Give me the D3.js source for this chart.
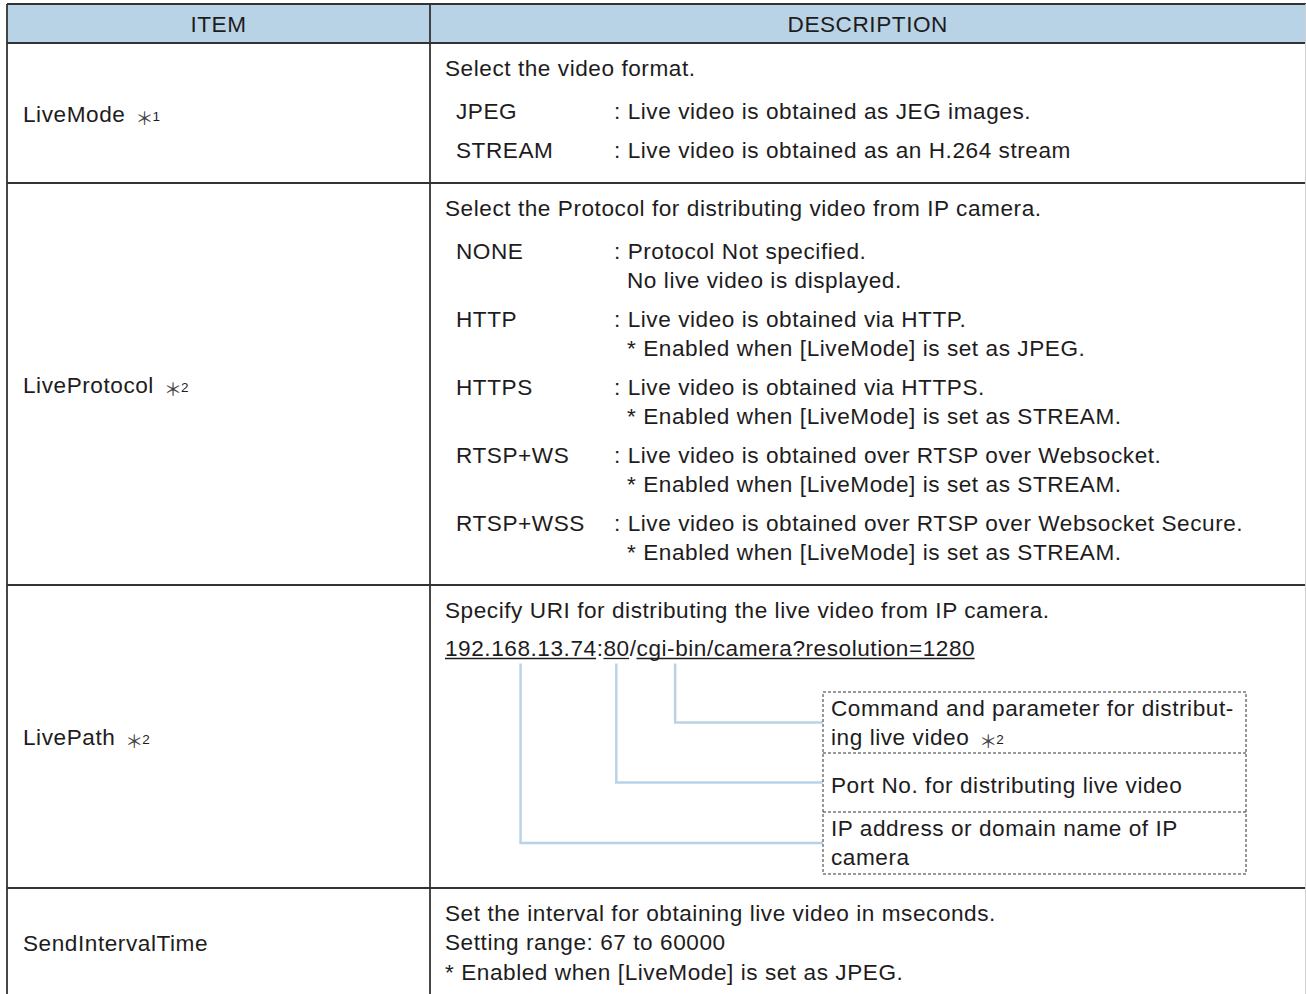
<!DOCTYPE html>
<html><head><meta charset="utf-8">
<script src="https://cdn.jsdelivr.net/npm/d3@7"></script>
<style>
html,body{margin:0;padding:0;background:#fff;}
svg{display:block;}
text{font-family:"Liberation Sans",Arial,Helvetica,sans-serif;fill:#1e1c1d;}
</style>
</head><body>
<svg id="c" width="1306" height="994"></svg>
<script>
// ---------- data ----------
const headers = ["ITEM", "DESCRIPTION"];
const items = ["LiveMode", "LiveProtocol", "LivePath", "SendIntervalTime"];
const itemNotes = ["1", "2", "2", ""];
const rowBounds = [43, 183, 585, 888, 996];
const intros = [
  ["Select the video format."],
  ["Select the Protocol for distributing video from IP camera."],
  ["Specify URI for distributing the live video from IP camera."],
  ["Set the interval for obtaining live video in mseconds.", "Setting range: 67 to 60000", "* Enabled when [LiveMode] is set as JPEG."]
];
const modeKeys = ["JPEG", "STREAM"];
const modeLines = [
  [": Live video is obtained as JEG images."],
  [": Live video is obtained as an H.264 stream"]
];
const protocolKeys = ["NONE", "HTTP", "HTTPS", "RTSP+WS", "RTSP+WSS"];
const protocolLines = [
  [": Protocol Not specified.", "No live video is displayed."],
  [": Live video is obtained via HTTP.", "* Enabled when [LiveMode] is set as JPEG."],
  [": Live video is obtained via HTTPS.", "* Enabled when [LiveMode] is set as STREAM."],
  [": Live video is obtained over RTSP over Websocket.", "* Enabled when [LiveMode] is set as STREAM."],
  [": Live video is obtained over RTSP over Websocket Secure.", "* Enabled when [LiveMode] is set as STREAM."]
];
const urlParts = ["192.168.13.74", ":", "80", "/", "cgi-bin/camera?resolution=1280"];
const urlUnderlined = [true, false, true, false, true];
const calloutLines = [
  ["Command and parameter for distribut-", "ing live video"],
  ["Port No. for distributing live video"],
  ["IP address or domain name of IP", "camera"]
];
const calloutNotes = ["2", "", ""];
const calloutPart = [4, 2, 0];
const calloutBounds = [692, 753, 812, 874];

// ---------- style / layout ----------
const FS = 22.6, LS = 0.55;
const W = 1306, tLeft = 7, tRight = 1305.5, colX = 430, tTop = 4;
const svg = d3.select("#c");
const xs = d3.scaleOrdinal().domain(headers).range([tLeft, colX]);
const colEnd = d3.scaleOrdinal().domain(headers).range([colX, tRight]);
const rowY = d3.scaleOrdinal().domain(items).range(rowBounds.slice(0, 4));
const rowY1 = d3.scaleOrdinal().domain(items).range(rowBounds.slice(1));

function txt(g, s, tx, ty, opts = {}) {
  const t = g.append("text").attr("x", tx).attr("y", ty)
    .attr("font-size", opts.fs || FS).attr("letter-spacing", LS)
    .attr("text-anchor", opts.anchor || "start").text(s);
  if (opts.note) {
    t.append("tspan").attr("dx", 10).attr("dy", 3).attr("font-size", 18).attr("letter-spacing", 0)
      .style("font-family", "'Noto Sans CJK JP'").attr("fill", "#444").text("＊");
    t.append("tspan").attr("dx", -1).attr("dy", -4).attr("font-size", 13.5).attr("letter-spacing", 0).text(opts.note);
  }
  return t;
}

// header
svg.append("rect").attr("x", tLeft).attr("y", tTop).attr("width", tRight - tLeft).attr("height", rowBounds[0] - tTop)
  .attr("fill", "#b9d3e6");
headers.forEach(h => {
  txt(svg, h, (xs(h) + colEnd(h)) / 2, 31.5, {anchor: "middle"});
});

// item labels
items.forEach((it, i) => {
  const cy = (rowY(it) + rowY1(it)) / 2;
  txt(svg, it, 23, cy + 8.5, {note: itemNotes[i]});
});

// descriptions
const dX = 445, keyX = 456, optX = 614, contX = 627;
function options(keys, lines, y0) {
  let y = y0;
  keys.forEach((k, i) => {
    txt(svg, k, keyX, y);
    lines[i].forEach((l, j) => {
      txt(svg, l, j === 0 ? optX : contX, y);
      if (j < lines[i].length - 1) y += 29;
    });
    y += 39;
  });
}
// row 1
txt(svg, intros[0][0], dX, rowY(items[0]) + 32.5);
options(modeKeys, modeLines, rowY(items[0]) + 75.5);
// row 2
txt(svg, intros[1][0], dX, rowY(items[1]) + 32.5);
options(protocolKeys, protocolLines, rowY(items[1]) + 75.5);
// row 3
txt(svg, intros[2][0], dX, rowY(items[2]) + 32.5);
const urlY = rowY(items[2]) + 70.5;
const urlT = svg.append("text").attr("x", dX).attr("y", urlY).attr("font-size", FS).attr("letter-spacing", LS);
const spans = urlParts.map(p => urlT.append("tspan").text(p));
const partBox = spans.map(s => s.node().getBBox());
const uLine = "#1e1c1d";
urlParts.forEach((p, i) => {
  if (!urlUnderlined[i]) return;
  const b = partBox[i];
  svg.append("line").attr("x1", b.x).attr("x2", b.x + b.width - LS).attr("y1", urlY + 3).attr("y2", urlY + 3)
    .attr("stroke", uLine).attr("stroke-width", 1.3);
});
function anchorX(pi) {
  const b = partBox[pi];
  if (pi === 4) {
    const w = spans[4].node().getSubStringLength(0, 8);
    return b.x + w / 2;
  }
  return b.x + (b.width - LS) / 2;
}
const boxL = 823, boxR = 1246;
const connColor = "#b9d3e6";
calloutLines.forEach((ls, i) => {
  const y0 = calloutBounds[i], y1 = calloutBounds[i + 1];
  const cy = (y0 + y1) / 2;
  const ax = anchorX(calloutPart[i]);
  svg.append("path").attr("d", `M${ax},${urlY + 8}V${cy}H${boxL}`)
    .attr("fill", "none").attr("stroke", connColor).attr("stroke-width", 2.5);
  const startY = cy + 7.5 - (ls.length - 1) * 29 / 2 + (ls.length === 1 ? 3 : 0);
  ls.forEach((l, j) => {
    txt(svg, l, 831, startY + j * 29, {note: (j === ls.length - 1) ? calloutNotes[i] : ""});
  });
});
svg.append("rect").attr("x", boxL).attr("y", calloutBounds[0]).attr("width", boxR - boxL)
  .attr("height", calloutBounds[3] - calloutBounds[0])
  .attr("fill", "none").attr("stroke", "#333").attr("stroke-width", 1).attr("stroke-dasharray", "3,2");
[calloutBounds[1], calloutBounds[2]].forEach(yy => {
  svg.append("line").attr("x1", boxL).attr("x2", boxR).attr("y1", yy).attr("y2", yy)
    .attr("stroke", "#333").attr("stroke-width", 1).attr("stroke-dasharray", "3,2");
});
// row 4
intros[3].forEach((l, j) => txt(svg, l, dX, rowY(items[3]) + 32.5 + j * 29.5));

// grid lines
const gl = svg.append("g").attr("stroke", "#333").attr("stroke-width", 1.8);
[tTop].concat(rowBounds.slice(0, 4)).forEach(yy => {
  gl.append("line").attr("x1", tLeft).attr("x2", W).attr("y1", yy).attr("y2", yy);
});
gl.append("line").attr("x1", tLeft).attr("x2", tLeft).attr("y1", tTop).attr("y2", 994);
gl.append("line").attr("x1", colX).attr("x2", colX).attr("y1", tTop).attr("y2", 994);
svg.append("line").attr("x1", tRight).attr("x2", tRight).attr("y1", tTop).attr("y2", 994)
  .attr("stroke", "#d0d0d0").attr("stroke-width", 1);
</script>
</body></html>
